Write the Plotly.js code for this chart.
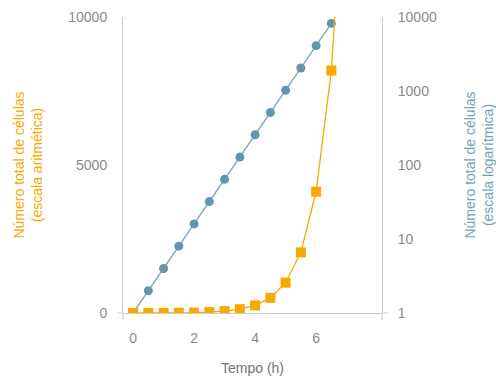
<!DOCTYPE html>
<html>
<head>
<meta charset="utf-8">
<script src="https://cdn.plot.ly/plotly-3.0.1.min.js"></script>
<style>html,body{margin:0;padding:0;background:#fff;}#chart{width:496px;height:378px;}</style>
</head>
<body>
<div id="chart"></div>
<script>
// Time (hours) and total cell count (doubling every 30 min)
const hours = [0, 0.5, 1, 1.5, 2, 2.5, 3, 3.5, 4, 4.5, 5, 5.5, 6, 6.5];
const cellCounts = [1, 2, 4, 8, 16, 32, 64, 128, 256, 512, 1024, 2048, 4096, 8192];
// the arithmetic curve continues to the next doubling (clipped at the axis top)
const nextHour = 7;
const nextCount = 16384;

const xTicks = [0, 2, 4, 6];
const leftTicks = [0, 5000, 10000];
const rightTicks = [1, 10, 100, 1000, 10000];

const orange = '#F9A800';
const blue = '#6097AC';
const axisColor = '#cccccc';
const tickFont = {family: 'Liberation Sans, Arial, sans-serif', size: 14, color: '#8a8a8a'};

const logTrace = {
  x: hours, y: cellCounts, xaxis: 'x', yaxis: 'y',
  mode: 'lines+markers', type: 'scatter',
  line: {color: '#7FA9BA', width: 1.4},
  marker: {color: blue, size: 9, symbol: 'circle'},
  hoverinfo: 'x+y'
};
const arithTrace = {
  x: hours.concat([nextHour]), y: cellCounts.concat([nextCount]), xaxis: 'x', yaxis: 'y2',
  mode: 'lines+markers', type: 'scatter',
  line: {color: orange, width: 1.3},
  marker: {color: orange, size: 10, symbol: 'square'},
  hoverinfo: 'x+y'
};

const layout = {
  width: 496, height: 378,
  margin: {l: 123, r: 114, t: 17, b: 65, pad: 0},
  paper_bgcolor: '#fff', plot_bgcolor: '#fff',
  showlegend: false,
  font: {family: 'Liberation Sans, Arial, sans-serif'},
  xaxis: {
    range: [-0.33, 8.16], tickvals: xTicks, ticktext: xTicks.map(String),
    showgrid: false, zeroline: false, showline: true, linecolor: axisColor, linewidth: 1,
    ticks: '', ticklabelstandoff: 12, tickfont: tickFont,
    title: {text: 'Tempo (h)', font: {family: 'Liberation Sans, Arial, sans-serif', size: 14, color: '#737373'}, standoff: 18}
  },
  yaxis: {
    type: 'log', range: [0, 4], side: 'right', tickvals: rightTicks, ticktext: rightTicks.map(String),
    showgrid: false, zeroline: false, showline: true, linecolor: axisColor, linewidth: 1,
    ticks: '', ticklabelstandoff: 12, tickfont: tickFont,
    title: {text: 'Número total de células<br>(escala logarítmica)', font: {family: 'Liberation Sans, Arial, sans-serif', size: 14, color: '#72A2B5'}, standoff: 34}
  },
  yaxis2: {
    overlaying: 'y', side: 'left', range: [0, 10000], tickvals: leftTicks, ticktext: leftTicks.map(String),
    showgrid: false, zeroline: false, showline: true, linecolor: axisColor, linewidth: 1,
    ticks: '', ticklabelstandoff: 12, tickfont: tickFont,
    title: {text: 'Número total de células<br>(escala aritmética)', font: {family: 'Liberation Sans, Arial, sans-serif', size: 14, color: orange}, standoff: 22}
  },
  shapes: [
    {type: 'line', xref: 'paper', yref: 'paper', x0: -0.024, x1: 0, y0: 0, y1: 0, line: {color: axisColor, width: 1}},
    {type: 'line', xref: 'paper', yref: 'paper', x0: 1, x1: 1.024, y0: 0, y1: 0, line: {color: axisColor, width: 1}},
    {type: 'line', xref: 'paper', yref: 'paper', x0: 0, x1: 0, y0: -0.024, y1: 0, line: {color: axisColor, width: 1}},
    {type: 'line', xref: 'paper', yref: 'paper', x0: 1, x1: 1, y0: -0.024, y1: 0, line: {color: axisColor, width: 1}}
  ]
};

Plotly.newPlot('chart', [logTrace, arithTrace], layout, {displayModeBar: false, staticPlot: true});
</script>
</body>
</html>
